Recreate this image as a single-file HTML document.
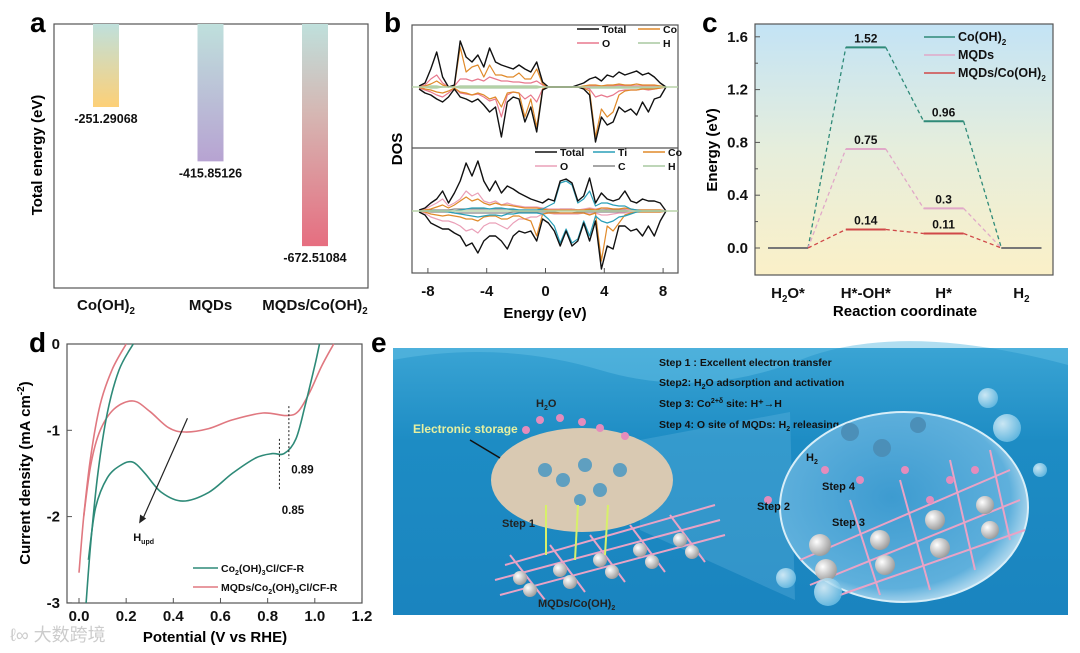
<!DOCTYPE html>
<html><head><meta charset="utf-8"><style>
html,body{margin:0;padding:0;background:#fff}
svg{display:block;font-family:"Liberation Sans",Arial,sans-serif;font-weight:bold}
</style></head><body>
<svg id="fig" width="1080" height="653" viewBox="0 0 1080 653" xmlns="http://www.w3.org/2000/svg">
<defs>
<linearGradient id="ga1" x1="0" y1="0" x2="0" y2="1"><stop offset="0" stop-color="#bfe0dc"/><stop offset="1" stop-color="#fdd077"/></linearGradient>
<linearGradient id="ga2" x1="0" y1="0" x2="0" y2="1"><stop offset="0" stop-color="#bfe0dc"/><stop offset="1" stop-color="#b7a3d2"/></linearGradient>
<linearGradient id="ga3" x1="0" y1="0" x2="0" y2="1"><stop offset="0" stop-color="#bfe0dc"/><stop offset="0.4" stop-color="#d5b7b3"/><stop offset="1" stop-color="#e66e80"/></linearGradient>
<linearGradient id="gc" x1="0" y1="0" x2="0" y2="1"><stop offset="0" stop-color="#c3e3f5"/><stop offset="0.5" stop-color="#e6eedc"/><stop offset="1" stop-color="#fbf0c8"/></linearGradient>
<linearGradient id="ge" x1="0" y1="0" x2="0" y2="1"><stop offset="0" stop-color="#3aa4d4"/><stop offset="0.35" stop-color="#1d8cc4"/><stop offset="1" stop-color="#1a84bf"/></linearGradient>
<radialGradient id="gs" cx="0.45" cy="0.45" r="0.6"><stop offset="0" stop-color="#3d9bd0"/><stop offset="0.8" stop-color="#5fb0dc"/><stop offset="1" stop-color="#cfe8f5"/></radialGradient>
<radialGradient id="gb" cx="0.35" cy="0.35" r="0.7"><stop offset="0" stop-color="#e8f6fc"/><stop offset="1" stop-color="#6cbde3"/></radialGradient>
<radialGradient id="gg" cx="0.35" cy="0.35" r="0.7"><stop offset="0" stop-color="#ffffff"/><stop offset="1" stop-color="#9a9a9a"/></radialGradient>
</defs>

<text x="30" y="32" font-size="28">a</text>
<text x="384" y="32" font-size="28">b</text>
<text x="702" y="32" font-size="28">c</text>
<text x="29" y="352" font-size="28">d</text>
<text x="371" y="352" font-size="28">e</text>

<g id="pa">
<rect x="54" y="24" width="314" height="264" fill="none" stroke="#555" stroke-width="1.2"/>
<text transform="translate(42,155) rotate(-90)" text-anchor="middle" font-size="15">Total energy (eV)</text>
</g>

<g id="pb">
<rect x="412" y="25" width="266" height="248" fill="none" stroke="#555" stroke-width="1.2"/>
<line x1="412" y1="148" x2="678" y2="148" stroke="#555" stroke-width="1.2"/>
<text transform="translate(402,149) rotate(-90)" text-anchor="middle" font-size="15">DOS</text>
<text x="545" y="318" text-anchor="middle" font-size="15">Energy (eV)</text>
</g>

<g id="pc">
<rect x="755" y="24" width="298" height="251" fill="url(#gc)" stroke="#555" stroke-width="1.2"/>
<text transform="translate(717,150) rotate(-90)" text-anchor="middle" font-size="15">Energy (eV)</text>
<text x="905" y="316" text-anchor="middle" font-size="15">Reaction coordinate</text>
</g>

<g id="pd">
<rect x="67" y="344" width="295" height="259" fill="none" stroke="#555" stroke-width="1.2"/>
<text transform="translate(30,473) rotate(-90)" text-anchor="middle" font-size="15">Current density (mA cm<tspan dy="-6" font-size="10">-2</tspan><tspan dy="6">)</tspan></text>
<text x="215" y="642" text-anchor="middle" font-size="15">Potential (V vs RHE)</text>
<text x="10" y="641" font-size="18" fill="#ccc" font-weight="normal" font-family="'Liberation Sans','Noto Sans CJK SC',sans-serif">ℓ∞ 大数跨境</text>
</g>

<g id="pe">
<rect x="393" y="348" width="675" height="267" fill="url(#ge)"/>
<path d="M393 360 Q500 340 600 370 T800 360 T1068 365 L1068 348 L393 348Z" fill="#62bde3" opacity="0.5"/>
<polygon points="640,440 790,412 795,600 640,530" fill="#7cc4e6" opacity="0.25"/>
<ellipse cx="582" cy="480" rx="91" ry="52" fill="#d9c9b2"/>
<g stroke="#e9a3c6" stroke-width="2">
<line x1="495" y1="580" x2="720" y2="520"/><line x1="500" y1="595" x2="725" y2="535"/><line x1="505" y1="565" x2="715" y2="505"/>
<line x1="510" y1="555" x2="545" y2="600"/><line x1="550" y1="545" x2="585" y2="592"/><line x1="590" y1="535" x2="625" y2="582"/><line x1="630" y1="525" x2="665" y2="572"/><line x1="670" y1="515" x2="705" y2="562"/>
</g>
<g fill="url(#gg)">
<circle cx="520" cy="578" r="7"/><circle cx="530" cy="590" r="7"/><circle cx="560" cy="570" r="7"/><circle cx="570" cy="582" r="7"/><circle cx="600" cy="560" r="7"/><circle cx="612" cy="572" r="7"/><circle cx="640" cy="550" r="7"/><circle cx="652" cy="562" r="7"/><circle cx="680" cy="540" r="7"/><circle cx="692" cy="552" r="7"/>
</g>
<g fill="#5f9fc0">
<circle cx="545" cy="470" r="7"/><circle cx="563" cy="480" r="7"/><circle cx="585" cy="465" r="7"/><circle cx="600" cy="490" r="7"/><circle cx="620" cy="470" r="7"/><circle cx="580" cy="500" r="6"/>
</g>
<g fill="#e48cbc">
<circle cx="540" cy="420" r="4"/><circle cx="560" cy="418" r="4"/><circle cx="582" cy="422" r="4"/><circle cx="600" cy="428" r="4"/><circle cx="625" cy="436" r="4"/><circle cx="526" cy="430" r="4"/><circle cx="768" cy="500" r="4"/>
</g>
<text x="536" y="407" font-size="11" fill="#222" font-family="'Liberation Sans',sans-serif">H<tspan font-size="7" dy="3">2</tspan><tspan dy="-3">O</tspan></text>
<text x="413" y="433" font-size="12" fill="#e6f0a0">Electronic storage</text>
<line x1="470" y1="440" x2="500" y2="458" stroke="#111" stroke-width="1.5"/>
<text x="502" y="527" font-size="11" fill="#222">Step 1</text>
<g stroke="#d7f06a" stroke-width="2"><line x1="546" y1="555" x2="546" y2="505"/><line x1="575" y1="560" x2="578" y2="505"/><line x1="605" y1="555" x2="608" y2="505"/></g>
<text x="538" y="607" font-size="11" fill="#222">MQDs/Co(OH)<tspan font-size="7" dy="3">2</tspan></text>
<text x="659" y="366" font-size="10.5" fill="#111">Step 1 : Excellent electron transfer</text>
<text x="659" y="386" font-size="10.5" fill="#111">Step2: H<tspan font-size="7" dy="3">2</tspan><tspan dy="-3">O adsorption and activation</tspan></text>
<text x="659" y="407" font-size="10.5" fill="#111">Step 3: Co<tspan font-size="7" dy="-4">2+δ</tspan><tspan dy="4"> site: H⁺→H</tspan></text>
<text x="659" y="428" font-size="10.5" fill="#111">Step 4: O site of MQDs: H<tspan font-size="7" dy="3">2</tspan><tspan dy="-3"> releasing</tspan></text>
<ellipse cx="904" cy="507" rx="124" ry="95" fill="url(#gs)" stroke="#d8eef8" stroke-width="2"/>
<g stroke="#e9a3c6" stroke-width="2">
<line x1="800" y1="560" x2="1010" y2="470"/><line x1="810" y1="585" x2="1020" y2="500"/><line x1="840" y1="595" x2="1025" y2="530"/>
<line x1="850" y1="500" x2="880" y2="595"/><line x1="900" y1="480" x2="930" y2="590"/><line x1="950" y1="460" x2="975" y2="570"/><line x1="990" y1="450" x2="1010" y2="540"/>
</g>
<g fill="url(#gg)">
<circle cx="820" cy="545" r="11"/><circle cx="826" cy="570" r="11"/><circle cx="880" cy="540" r="10"/><circle cx="885" cy="565" r="10"/><circle cx="935" cy="520" r="10"/><circle cx="940" cy="548" r="10"/><circle cx="985" cy="505" r="9"/><circle cx="990" cy="530" r="9"/>
</g>
<g fill="#4b8fb8"><circle cx="850" cy="432" r="9"/><circle cx="882" cy="448" r="9"/><circle cx="918" cy="425" r="8"/></g>
<g fill="#e48cbc"><circle cx="825" cy="470" r="4"/><circle cx="860" cy="480" r="4"/><circle cx="905" cy="470" r="4"/><circle cx="950" cy="480" r="4"/><circle cx="975" cy="470" r="4"/><circle cx="930" cy="500" r="4"/></g>
<text x="806" y="461" font-size="11" fill="#111">H<tspan font-size="7" dy="3">2</tspan></text>
<text x="822" y="490" font-size="11" fill="#111">Step 4</text>
<text x="757" y="510" font-size="11" fill="#111">Step 2</text>
<text x="832" y="526" font-size="11" fill="#111">Step 3</text>
<g fill="url(#gb)" opacity="0.85"><circle cx="988" cy="398" r="10"/><circle cx="1007" cy="428" r="14"/><circle cx="786" cy="578" r="10"/><circle cx="828" cy="592" r="14"/><circle cx="1040" cy="470" r="7"/></g>
</g>
</svg>

<script>
const aCategories = ["Co(OH)2", "MQDs", "MQDs/Co(OH)2"];
const aValues = [-251.29068, -415.85126, -672.51084];
const aLabels = ["-251.29068", "-415.85126", "-672.51084"];

const bEnergy = [-8.6,-8.2,-7.8,-7.4,-7.0,-6.6,-6.2,-5.8,-5.4,-5.0,-4.6,-4.2,-3.8,-3.4,-3.0,-2.6,-2.2,-1.8,-1.4,-1.0,-0.6,-0.2,0.2,0.6,1.0,1.4,1.8,2.2,2.6,3.0,3.4,3.8,4.2,4.6,5.0,5.4,5.8,6.2,6.6,7.0,7.4,7.8,8.2];
const bTicks = [-8, -4, 0, 4, 8];
const uTotUp = [1,4,18,35,10,0,2,46,30,25,32,20,39,25,22,20,18,22,18,15,25,5,0,0,0,0,0,2,4,8,10,6,12,10,15,12,14,16,12,14,10,4,0];
const uTotDn = [2,6,8,12,15,10,2,10,12,15,12,18,25,20,50,15,10,12,35,20,45,3,0,0,0,0,0,0,2,8,55,30,38,35,20,25,22,28,15,25,12,10,0];
const uCoUp = [0,1,3,6,2,0,1,40,15,20,22,10,22,12,12,10,10,14,8,8,18,3,0,0,0,0,0,0,1,2,2,1,2,2,3,2,2,3,2,2,2,1,0];
const uCoDn = [0,2,3,5,6,4,1,5,6,8,6,8,12,10,20,6,5,6,30,12,40,2,0,0,0,0,0,0,1,4,50,22,30,25,8,4,3,3,2,2,2,1,0];
const uOUp = [1,2,8,12,4,0,1,8,8,6,8,6,10,8,6,6,5,5,4,4,6,2,0,0,0,0,0,0,0,1,1,1,1,1,2,1,1,1,1,1,1,0,0];
const uODn = [1,3,5,8,10,6,1,6,7,8,7,10,14,12,30,8,5,6,12,8,15,2,0,0,0,0,0,0,0,2,10,8,10,8,4,3,3,3,2,3,2,1,0];
const uH = [0,0,1,1,0,0,0,1,1,1,1,1,1,1,1,1,1,1,1,1,1,0,0,0,0,0,0,0,0,1,1,1,1,1,1,1,1,1,1,1,1,1,0];
const lTotUp = [1,3,8,12,20,8,18,30,48,35,50,30,20,30,18,25,22,18,15,12,10,8,12,10,30,32,28,10,15,33,8,18,12,10,12,20,10,8,12,10,10,8,0];
const lTotDn = [1,4,12,15,18,18,22,25,35,32,42,30,25,25,30,38,25,20,22,20,30,8,12,20,35,20,35,30,12,30,10,58,35,38,15,15,20,18,25,15,25,10,0];
const lTiUp = [0,0,0,0,0,0,0,1,2,3,3,3,2,3,3,2,2,1,1,1,1,2,5,8,28,30,26,8,12,20,5,8,8,6,5,5,2,1,0,0,0,0,0];
const lTiDn = [0,0,0,0,0,1,2,3,4,5,6,5,4,4,5,3,3,2,2,2,2,3,8,15,32,18,32,28,10,25,5,10,12,10,6,5,3,1,0,0,0,0,0];
const lCoUp = [0,1,2,4,6,3,6,10,14,10,12,8,6,8,6,6,5,4,3,3,3,2,1,1,1,1,1,1,1,2,1,3,3,2,2,3,2,1,1,1,1,1,0];
const lCoDn = [0,1,3,4,5,4,5,6,8,8,10,6,5,5,8,8,5,5,8,10,25,3,2,2,2,2,2,2,2,4,2,50,15,20,12,4,2,1,1,1,1,1,0];
const lOUp = [0,2,5,8,12,5,8,12,20,15,18,10,8,10,6,8,6,5,4,4,4,3,2,2,2,2,2,1,2,3,2,3,2,2,2,2,1,1,1,1,1,1,0];
const lODn = [0,2,6,8,10,10,12,15,20,18,22,15,12,12,15,18,12,8,8,6,6,3,2,3,3,3,3,3,2,3,2,4,4,3,2,2,1,1,1,1,1,1,0];
const lC = [0,0,1,1,1,1,2,2,2,2,2,2,2,2,2,2,1,1,1,1,1,1,1,1,2,2,2,1,1,1,1,1,1,1,1,1,1,1,1,1,1,1,0];

const cSteps = ["H2O*", "H*-OH*", "H*", "H2"];
const cCoOH2 = [0, 1.52, 0.96, 0];
const cMQDs = [0, 0.75, 0.3, 0];
const cHybrid = [0, 0.14, 0.11, 0];
const cLevelLabels = [["", "1.52", "0.96", ""], ["", "0.75", "0.3", ""], ["", "0.14", "0.11", ""]];
const cYTicks = [0.0, 0.4, 0.8, 1.2, 1.6];
const cYMinor = [0.2, 0.6, 1.0, 1.4];

const dXTicks = [0.0, 0.2, 0.4, 0.6, 0.8, 1.0, 1.2];
const dYTicks = [0, -1, -2, -3];
const dGreenA_x = [0.03,0.05,0.08,0.12,0.17,0.23];
const dGreenA_y = [-3.0,-2.3,-1.5,-0.8,-0.3,0];
const dGreenB_x = [0.04,0.07,0.12,0.18,0.23,0.28,0.35,0.44,0.55,0.65,0.75,0.82,0.87,0.92,0.96,1.0,1.02];
const dGreenB_y = [-2.5,-1.9,-1.55,-1.4,-1.37,-1.5,-1.72,-1.82,-1.72,-1.5,-1.32,-1.27,-1.27,-1.1,-0.7,-0.25,0];
const dPinkA_x = [0.0,0.02,0.05,0.09,0.14,0.2];
const dPinkA_y = [-2.65,-2.0,-1.3,-0.7,-0.3,0];
const dPinkB_x = [0.02,0.05,0.09,0.15,0.23,0.3,0.38,0.45,0.55,0.65,0.78,0.88,0.93,0.98,1.03,1.08];
const dPinkB_y = [-2.0,-1.4,-1.0,-0.75,-0.66,-0.78,-0.97,-1.02,-0.98,-0.88,-0.8,-0.83,-0.78,-0.55,-0.25,0];

const NS = "http://www.w3.org/2000/svg";
function mk(parent, tag, attrs, name, inter) {
  const el = document.createElementNS(NS, tag);
  for (const k in attrs) el.setAttribute(k, attrs[k]);
  
  
  parent.appendChild(el);
  return el;
}
function txt(parent, x, y, s, size, anchor, name, fill) {
  const t = mk(parent, 'text', {x: x, y: y, 'font-size': size, 'text-anchor': anchor || 'middle', fill: fill || '#111'}, name, false);
  t.textContent = s;
  return t;
}
function subTxt(parent, x, y, base, sub, rest, size, anchor, name) {
  const t = mk(parent, 'text', {x: x, y: y, 'font-size': size, 'text-anchor': anchor || 'middle', fill: '#111'}, name, false);
  t.appendChild(document.createTextNode(base));
  const s = document.createElementNS(NS, 'tspan');
  s.setAttribute('font-size', size * 0.65); s.setAttribute('dy', 4); s.textContent = sub;
  t.appendChild(s);
  if (rest) { const r = document.createElementNS(NS, 'tspan'); r.setAttribute('dy', -4); r.textContent = rest; t.appendChild(r); }
  return t;
}
function smooth(pts) {
  let d = "M" + pts[0][0].toFixed(1) + " " + pts[0][1].toFixed(1);
  for (let i = 0; i < pts.length - 1; i++) {
    const p0 = pts[Math.max(0, i - 1)], p1 = pts[i], p2 = pts[i + 1], p3 = pts[Math.min(pts.length - 1, i + 2)];
    const c1 = [p1[0] + (p2[0] - p0[0]) / 6, p1[1] + (p2[1] - p0[1]) / 6];
    const c2 = [p2[0] - (p3[0] - p1[0]) / 6, p2[1] - (p3[1] - p1[1]) / 6];
    d += " C" + c1[0].toFixed(1) + " " + c1[1].toFixed(1) + " " + c2[0].toFixed(1) + " " + c2[1].toFixed(1) + " " + p2[0].toFixed(1) + " " + p2[1].toFixed(1);
  }
  return d;
}

(function () {
  const g = document.getElementById('pa');
  const xA = i => 106 + i * 104.5;
  const yA = v => 24 + (-v) * 0.3303;
  const grads = ['url(#ga1)', 'url(#ga2)', 'url(#ga3)'];
  aValues.forEach((v, i) => {
    mk(g, 'rect', {x: xA(i) - 13, y: 24, width: 26, height: yA(v) - 24, fill: grads[i]}, 'bar-' + i, true);
    txt(g, xA(i), yA(v) + 16, aLabels[i], 12.5, 'middle', 'bar-value-label-' + i);
  });
  subTxt(g, xA(0), 310, 'Co(OH)', '2', '', 15, 'middle', 'x-category-coh2');
  txt(g, xA(1), 310, 'MQDs', 15, 'middle', 'x-category-mqds');
  subTxt(g, xA(2), 310, 'MQDs/Co(OH)', '2', '', 15, 'middle', 'x-category-hybrid');
})();

(function () {
  const g = document.getElementById('pb');
  const xB = e => 545.5 + e * 14.7;
  function series(arr, base, sign, color, name, w) {
    const pts = bEnergy.map((e, i) => [xB(e), base - sign * arr[i]]);
    let d = "M" + pts.map(p => p[0].toFixed(1) + " " + p[1].toFixed(1)).join(" L");
    mk(g, 'path', {d: d, fill: 'none', stroke: color, 'stroke-width': w || 1.2, 'stroke-linejoin': 'round'}, name, false);
  }
  const U = 87, L = 211;
  series(uH, U, 1, '#a8c8a0', 'dos-top-h-up'); series(uH, U, -1, '#a8c8a0', 'dos-top-h-down');
  series(uOUp, U, 1, '#e8798e', 'dos-top-o-up'); series(uODn, U, -1, '#e8798e', 'dos-top-o-down');
  series(uCoUp, U, 1, '#e08a2a', 'dos-top-co-up'); series(uCoDn, U, -1, '#e08a2a', 'dos-top-co-down');
  series(uTotUp, U, 1, '#111', 'dos-top-total-up', 1.4); series(uTotDn, U, -1, '#111', 'dos-top-total-down', 1.4);
  series(lC, L, 1, '#888', 'dos-bottom-c-up'); series(lC, L, -1, '#888', 'dos-bottom-c-down');
  series(lOUp, L, 1, '#eaa0b8', 'dos-bottom-o-up'); series(lODn, L, -1, '#eaa0b8', 'dos-bottom-o-down');
  series(lCoUp, L, 1, '#e08a2a', 'dos-bottom-co-up'); series(lCoDn, L, -1, '#e08a2a', 'dos-bottom-co-down');
  series(lTiUp, L, 1, '#2a9fb8', 'dos-bottom-ti-up'); series(lTiDn, L, -1, '#2a9fb8', 'dos-bottom-ti-down');
  series(lTotUp, L, 1, '#111', 'dos-bottom-total-up', 1.4); series(lTotDn, L, -1, '#111', 'dos-bottom-total-down', 1.4);
  mk(g, 'line', {x1: 412, y1: U, x2: 678, y2: U, stroke: '#b8d4a8', 'stroke-width': 1.5}, 'dos-top-baseline', false);
  mk(g, 'line', {x1: 412, y1: L, x2: 678, y2: L, stroke: '#b8d4a8', 'stroke-width': 1.5}, 'dos-bottom-baseline', false);
  bTicks.forEach(t => {
    mk(g, 'line', {x1: xB(t), y1: 273, x2: xB(t), y2: 268, stroke: '#555'}, 'x-tick', false);
    txt(g, xB(t), 296, '' + t, 15, 'middle', 'x-tick-label');
  });
  const leg = [
    [577, 33, '#111', 'Total'], [638, 33, '#e08a2a', 'Co'], [577, 47, '#e8798e', 'O'], [638, 47, '#a8c8a0', 'H'],
    [535, 156, '#111', 'Total'], [593, 156, '#2a9fb8', 'Ti'], [643, 156, '#e08a2a', 'Co'],
    [535, 170, '#eaa0b8', 'O'], [593, 170, '#888', 'C'], [643, 170, '#a8c8a0', 'H']];
  leg.forEach(l => {
    mk(g, 'line', {x1: l[0], y1: l[1] - 4, x2: l[0] + 22, y2: l[1] - 4, stroke: l[2], 'stroke-width': 1.5}, 'legend-line-' + l[3].toLowerCase(), false);
    txt(g, l[0] + 25, l[1], l[3], 10.5, 'start', 'legend-entry-' + l[3].toLowerCase());
  });
})();

(function () {
  const g = document.getElementById('pc');
  const xC = i => 788 + i * 77.8;
  const yC = v => 248 - v * 132;
  cYTicks.forEach(t => {
    mk(g, 'line', {x1: 755, y1: yC(t), x2: 760, y2: yC(t), stroke: '#555'}, 'y-tick', false);
    txt(g, 748, yC(t) + 5, t.toFixed(1), 15, 'end', 'y-tick-label');
  });
  cYMinor.forEach(v => mk(g, 'line', {x1: 755, y1: yC(v), x2: 758, y2: yC(v), stroke: '#555'}, 'y-minor-tick', false));
  const series = [[cCoOH2, '#2e8a78', 'coh2'], [cMQDs, '#e0a8c8', 'mqds'], [cHybrid, '#d04848', 'hybrid']];
  series.forEach((s, k) => {
    const vals = s[0];
    for (let i = 0; i < vals.length - 1; i++) {
      mk(g, 'line', {x1: xC(i) + 20, y1: yC(vals[i]), x2: xC(i + 1) - 20, y2: yC(vals[i + 1]), stroke: s[1], 'stroke-width': 1.3, 'stroke-dasharray': '4 3'}, 'connector-' + s[2] + '-' + i, false);
    }
  });
  series.forEach((s, k) => {
    const vals = s[0];
    for (let i = 0; i < vals.length; i++) {
      const edge = (i === 0 || i === vals.length - 1);
      mk(g, 'line', {x1: xC(i) - 20, y1: yC(vals[i]), x2: xC(i) + 20, y2: yC(vals[i]), stroke: edge ? '#777' : s[1], 'stroke-width': 2}, 'level-' + s[2] + '-' + i, false);
      if (cLevelLabels[k][i]) txt(g, xC(i), yC(vals[i]) - 5, cLevelLabels[k][i], 12, 'middle', 'level-value-' + s[2] + '-' + i);
    }
  });
  subTxt(g, xC(0), 298, 'H', '2', 'O*', 15, 'middle', 'x-category-h2o');
  txt(g, xC(1), 298, 'H*-OH*', 15, 'middle', 'x-category-hoh');
  txt(g, xC(2), 298, 'H*', 15, 'middle', 'x-category-h');
  subTxt(g, xC(3), 298, 'H', '2', '', 15, 'middle', 'x-category-h2');
  const leg = [[41, '#2e8a78', 'Co(OH)', '2'], [59, '#e0a8c8', 'MQDs', ''], [77, '#d04848', 'MQDs/Co(OH)', '2']];
  leg.forEach((l, i) => {
    mk(g, 'line', {x1: 924, y1: l[0] - 4, x2: 955, y2: l[0] - 4, stroke: l[1], 'stroke-width': 1.5}, 'legend-line-' + i, false);
    subTxt(g, 958, l[0], l[2], l[3], '', 12.5, 'start', 'legend-entry-' + i);
  });
})();

(function () {
  const g = document.getElementById('pd');
  const xD = v => 79 + v * 235.8;
  const yD = v => 344 - v * 86.3;
  dXTicks.forEach(t => {
    mk(g, 'line', {x1: xD(t), y1: 603, x2: xD(t), y2: 598, stroke: '#555'}, 'x-tick', false);
    txt(g, xD(t), 621, t.toFixed(1), 15, 'middle', 'x-tick-label');
  });
  dYTicks.forEach(t => {
    mk(g, 'line', {x1: 67, y1: yD(t), x2: 72, y2: yD(t), stroke: '#555'}, 'y-tick', false);
    txt(g, 60, yD(t) + 5, '' + t, 15, 'end', 'y-tick-label');
  });
  function curve(xs, ys, color, name) {
    const pts = xs.map((x, i) => [xD(x), yD(ys[i])]);
    mk(g, 'path', {d: smooth(pts), fill: 'none', stroke: color, 'stroke-width': 1.6}, name, false);
  }
  curve(dPinkA_x, dPinkA_y, '#e07880', 'cv-mqds-branch-a');
  curve(dPinkB_x, dPinkB_y, '#e07880', 'cv-mqds-branch-b');
  curve(dGreenA_x, dGreenA_y, '#2e8a78', 'cv-co-branch-a');
  curve(dGreenB_x, dGreenB_y, '#2e8a78', 'cv-co-branch-b');
  mk(g, 'line', {x1: xD(0.85), y1: yD(-1.1), x2: xD(0.85), y2: yD(-1.7), stroke: '#222', 'stroke-dasharray': '2 2'}, 'marker-085', false);
  mk(g, 'line', {x1: xD(0.89), y1: yD(-0.72), x2: xD(0.89), y2: yD(-1.33), stroke: '#222', 'stroke-dasharray': '2 2'}, 'marker-089', false);
  txt(g, xD(0.86), yD(-1.97), '0.85', 11.5, 'start', 'annotation-085');
  txt(g, xD(0.9), yD(-1.5), '0.89', 11.5, 'start', 'annotation-089');
  mk(g, 'line', {x1: xD(0.46), y1: yD(-0.86), x2: xD(0.27), y2: yD(-2.03), stroke: '#222', 'stroke-width': 1.2}, 'hupd-arrow', false);
  mk(g, 'path', {d: 'M' + xD(0.255) + ' ' + yD(-2.08) + ' l1 -9 l6 4 z', fill: '#222'}, 'hupd-arrowhead', false);
  const h = txt(g, xD(0.23), yD(-2.28), 'H', 11, 'start', 'hupd-label');
  const s = document.createElementNS(NS, 'tspan'); s.setAttribute('font-size', 7); s.setAttribute('dy', 3); s.textContent = 'upd'; h.appendChild(s);
  mk(g, 'line', {x1: 193, y1: 568, x2: 218, y2: 568, stroke: '#2e8a78', 'stroke-width': 1.5}, 'legend-line-co', false);
  mk(g, 'line', {x1: 193, y1: 587, x2: 218, y2: 587, stroke: '#e07880', 'stroke-width': 1.5}, 'legend-line-mqds', false);
  const t1 = mk(g, 'text', {x: 221, y: 572, 'font-size': 10.5, fill: '#111'}, 'legend-entry-co', false);
  t1.innerHTML = 'Co<tspan font-size="7" dy="3">2</tspan><tspan dy="-3">(OH)</tspan><tspan font-size="7" dy="3">3</tspan><tspan dy="-3">Cl/CF-R</tspan>';
  const t2 = mk(g, 'text', {x: 221, y: 591, 'font-size': 10.5, fill: '#111'}, 'legend-entry-mqds', false);
  t2.innerHTML = 'MQDs/Co<tspan font-size="7" dy="3">2</tspan><tspan dy="-3">(OH)</tspan><tspan font-size="7" dy="3">3</tspan><tspan dy="-3">Cl/CF-R</tspan>';
})();
</script>
</body></html>
